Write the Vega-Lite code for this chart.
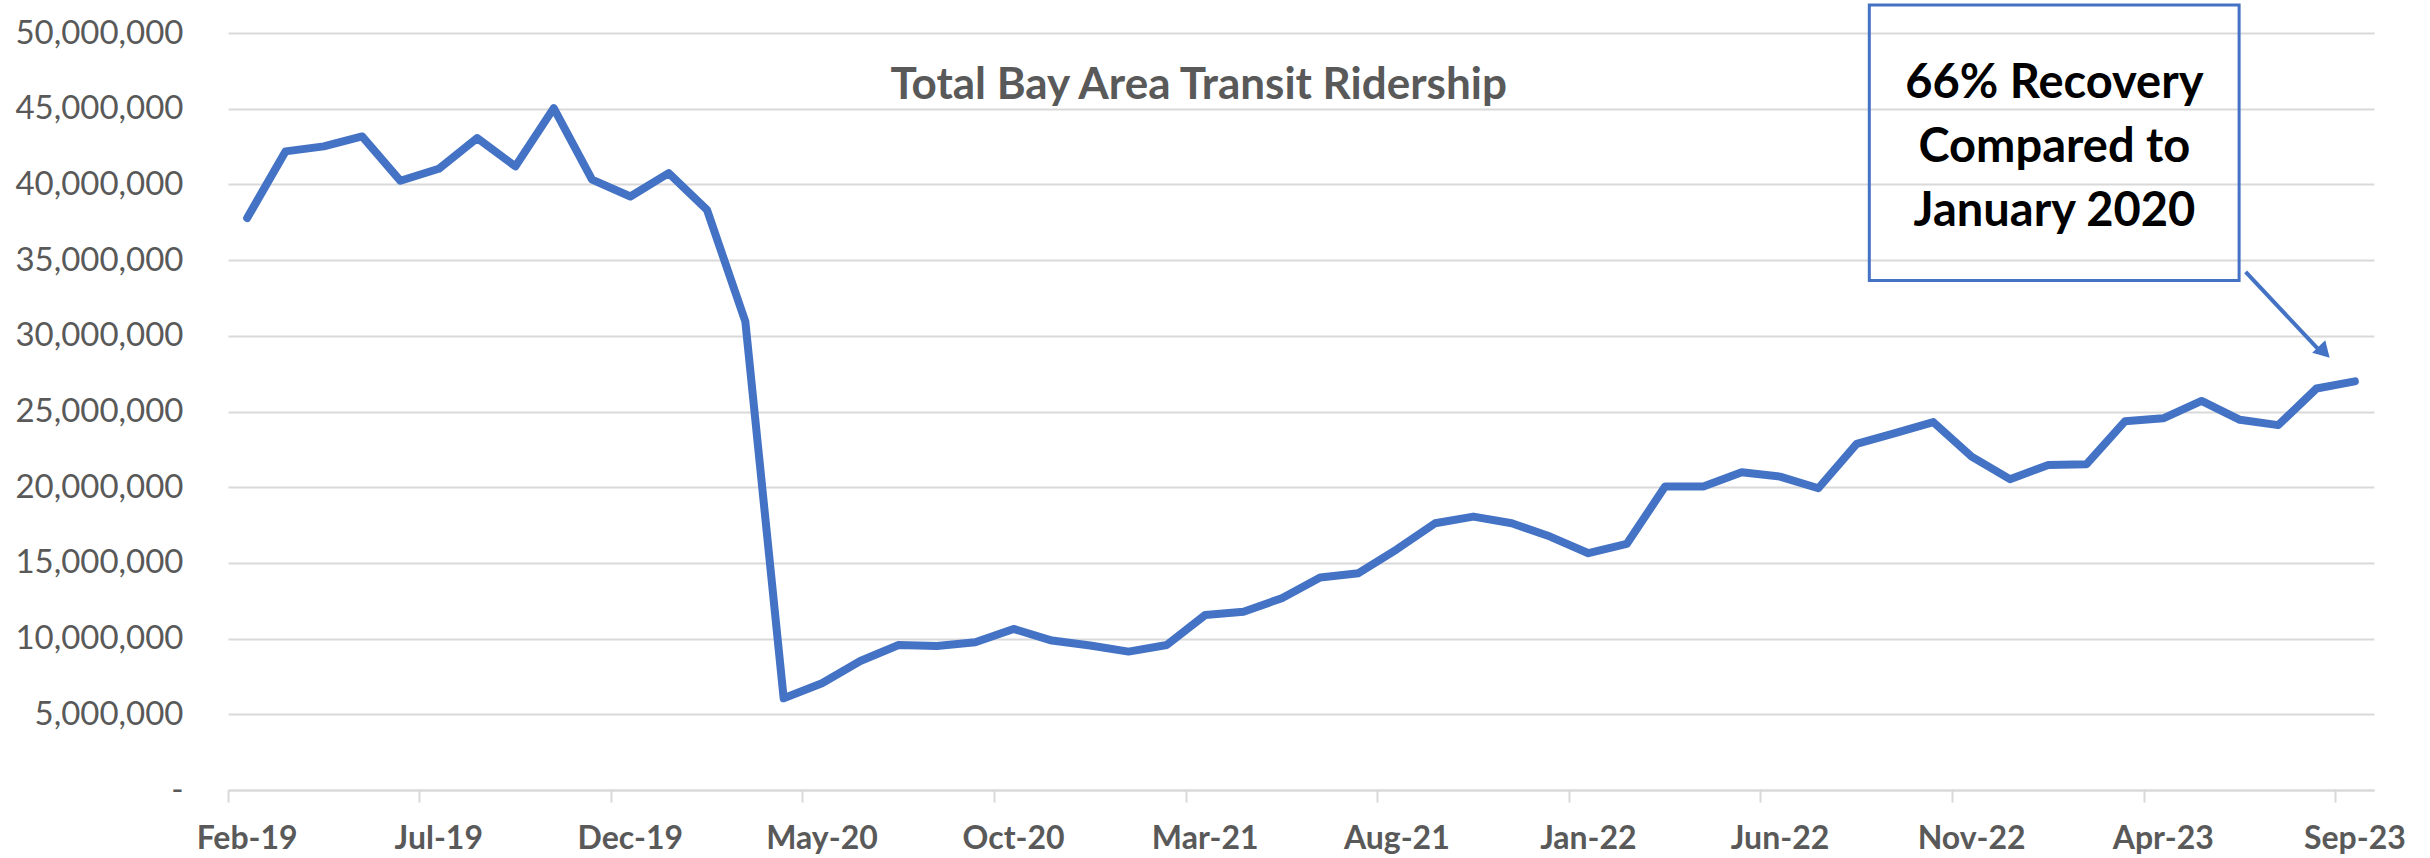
{
  "$schema": "https://vega.github.io/schema/vega-lite/v6.json",
  "autosize": {"type": "none"},
  "width": 2146,
  "height": 757,
  "padding": {"left": 228, "top": 33, "right": 56, "bottom": 68},
  "background": "white",
  "config": {"view": {"stroke": null}, "font": "Lato"},
  "datasets": {
    "ridership": [
      {"month": "Feb-19", "riders": 37780000},
      {"month": "Mar-19", "riders": 42180000},
      {"month": "Apr-19", "riders": 42510000},
      {"month": "May-19", "riders": 43170000},
      {"month": "Jun-19", "riders": 40240000},
      {"month": "Jul-19", "riders": 41030000},
      {"month": "Aug-19", "riders": 43060000},
      {"month": "Sep-19", "riders": 41190000},
      {"month": "Oct-19", "riders": 45040000},
      {"month": "Nov-19", "riders": 40310000},
      {"month": "Dec-19", "riders": 39200000},
      {"month": "Jan-20", "riders": 40750000},
      {"month": "Feb-20", "riders": 38320000},
      {"month": "Mar-20", "riders": 30940000},
      {"month": "Apr-20", "riders": 6060000},
      {"month": "May-20", "riders": 7050000},
      {"month": "Jun-20", "riders": 8520000},
      {"month": "Jul-20", "riders": 9580000},
      {"month": "Aug-20", "riders": 9510000},
      {"month": "Sep-20", "riders": 9760000},
      {"month": "Oct-20", "riders": 10640000},
      {"month": "Nov-20", "riders": 9870000},
      {"month": "Dec-20", "riders": 9540000},
      {"month": "Jan-21", "riders": 9140000},
      {"month": "Feb-21", "riders": 9580000},
      {"month": "Mar-21", "riders": 11560000},
      {"month": "Apr-21", "riders": 11780000},
      {"month": "May-21", "riders": 12670000},
      {"month": "Jun-21", "riders": 14030000},
      {"month": "Jul-21", "riders": 14320000},
      {"month": "Aug-21", "riders": 15900000},
      {"month": "Sep-21", "riders": 17620000},
      {"month": "Oct-21", "riders": 18060000},
      {"month": "Nov-21", "riders": 17620000},
      {"month": "Dec-21", "riders": 16740000},
      {"month": "Jan-22", "riders": 15640000},
      {"month": "Feb-22", "riders": 16250000},
      {"month": "Mar-22", "riders": 20040000},
      {"month": "Apr-22", "riders": 20040000},
      {"month": "May-22", "riders": 20990000},
      {"month": "Jun-22", "riders": 20700000},
      {"month": "Jul-22", "riders": 19930000},
      {"month": "Aug-22", "riders": 22860000},
      {"month": "Sep-22", "riders": 23570000},
      {"month": "Oct-22", "riders": 24300000},
      {"month": "Nov-22", "riders": 22020000},
      {"month": "Dec-22", "riders": 20530000},
      {"month": "Jan-23", "riders": 21470000},
      {"month": "Feb-23", "riders": 21520000},
      {"month": "Mar-23", "riders": 24350000},
      {"month": "Apr-23", "riders": 24550000},
      {"month": "May-23", "riders": 25700000},
      {"month": "Jun-23", "riders": 24450000},
      {"month": "Jul-23", "riders": 24100000},
      {"month": "Aug-23", "riders": 26520000},
      {"month": "Sep-23", "riders": 26990000}
    ],
    "box": [{"ix": 42.83, "ix2": 52.48, "y": 33660000, "y2": 51850000}],
    "note": [
      {"ix": 47.66, "y": 45720000, "text": "66% Recovery"},
      {"ix": 47.66, "y": 41500000, "text": "Compared to"},
      {"ix": 47.66, "y": 37270000, "text": "January 2020"}
    ],
    "heading": [{"ix": 25.33, "y": 45660000, "text": "Total Bay Area Transit Ridership"}],
    "arrow": [{"ix": 52.65, "y": 34230000, "ix2": 54.55, "y2": 29100000}],
    "arrowhead": [{"ix": 54.7, "y": 28920000}]
  },
  "resolve": {"scale": {"x": "independent"}, "axis": {"x": "independent"}},
  "layer": [
    {
      "data": {"name": "ridership"},
      "mark": {"type": "line", "color": "#4472C4", "strokeWidth": 8, "strokeCap": "round", "strokeJoin": "round"},
      "encoding": {
        "x": {
          "field": "month", "type": "ordinal", "sort": null, "bandPosition": 0.5,
          "scale": {"type": "band", "paddingInner": 0, "paddingOuter": 0},
          "axis": {
            "title": null,
            "values": ["Feb-19", "Jul-19", "Dec-19", "May-20", "Oct-20", "Mar-21", "Aug-21", "Jan-22", "Jun-22", "Nov-22", "Apr-23", "Sep-23"],
            "bandPosition": 0,
            "labelAngle": 0,
            "labelFont": "Lato",
            "labelFontWeight": "bold",
            "labelFontSize": 32,
            "labelColor": "#595959",
            "labelPadding": 21,
            "tickSize": 12,
            "tickColor": "#D9D9D9",
            "tickWidth": 2,
            "domainColor": "#D9D9D9",
            "domainWidth": 2,
            "grid": false
          }
        },
        "y": {
          "field": "riders", "type": "quantitative",
          "scale": {"domain": [0, 50000000], "nice": false},
          "axis": {
            "title": null,
            "values": [0, 5000000, 10000000, 15000000, 20000000, 25000000, 30000000, 35000000, 40000000, 45000000, 50000000],
            "labelExpr": "datum.value == 0 ? '-\u00a0\u00a0\u00a0\u00a0' : format(datum.value, ',')",
            "labelFont": "Lato",
            "labelFontSize": 33,
            "labelColor": "#595959",
            "labelPadding": 45,
            "ticks": false,
            "domain": false,
            "grid": true,
            "gridColor": "#D9D9D9",
            "gridWidth": 2
          }
        }
      }
    },
    {
      "data": {"name": "box"},
      "mark": {"type": "rect", "fill": null, "fillOpacity": 0, "stroke": "#4472C4", "strokeWidth": 3},
      "encoding": {
        "x": {"field": "ix", "type": "quantitative", "scale": {"domain": [0, 56], "nice": false, "zero": false}, "axis": null},
        "x2": {"field": "ix2"},
        "y": {"field": "y", "type": "quantitative", "scale": {"domain": [0, 50000000], "nice": false}},
        "y2": {"field": "y2"}
      }
    },
    {
      "data": {"name": "note"},
      "mark": {"type": "text", "font": "Lato", "fontWeight": "bold", "fontSize": 47, "color": "#000000", "align": "center", "baseline": "alphabetic"},
      "encoding": {
        "x": {"field": "ix", "type": "quantitative", "scale": {"domain": [0, 56], "nice": false, "zero": false}, "axis": null},
        "y": {"field": "y", "type": "quantitative", "scale": {"domain": [0, 50000000], "nice": false}},
        "text": {"field": "text"}
      }
    },
    {
      "data": {"name": "heading"},
      "mark": {"type": "text", "font": "Lato", "fontWeight": "bold", "fontSize": 44, "color": "#595959", "align": "center", "baseline": "alphabetic"},
      "encoding": {
        "x": {"field": "ix", "type": "quantitative", "scale": {"domain": [0, 56], "nice": false, "zero": false}, "axis": null},
        "y": {"field": "y", "type": "quantitative", "scale": {"domain": [0, 50000000], "nice": false}},
        "text": {"field": "text"}
      }
    },
    {
      "data": {"name": "arrow"},
      "mark": {"type": "rule", "color": "#4472C4", "strokeWidth": 4},
      "encoding": {
        "x": {"field": "ix", "type": "quantitative", "scale": {"domain": [0, 56], "nice": false, "zero": false}, "axis": null},
        "x2": {"field": "ix2"},
        "y": {"field": "y", "type": "quantitative", "scale": {"domain": [0, 50000000], "nice": false}},
        "y2": {"field": "y2"}
      }
    },
    {
      "data": {"name": "arrowhead"},
      "mark": {"type": "point", "shape": "triangle-right", "filled": true, "color": "#4472C4", "opacity": 1, "size": 330, "angle": 46},
      "encoding": {
        "x": {"field": "ix", "type": "quantitative", "scale": {"domain": [0, 56], "nice": false, "zero": false}, "axis": null},
        "y": {"field": "y", "type": "quantitative", "scale": {"domain": [0, 50000000], "nice": false}}
      }
    }
  ]
}
